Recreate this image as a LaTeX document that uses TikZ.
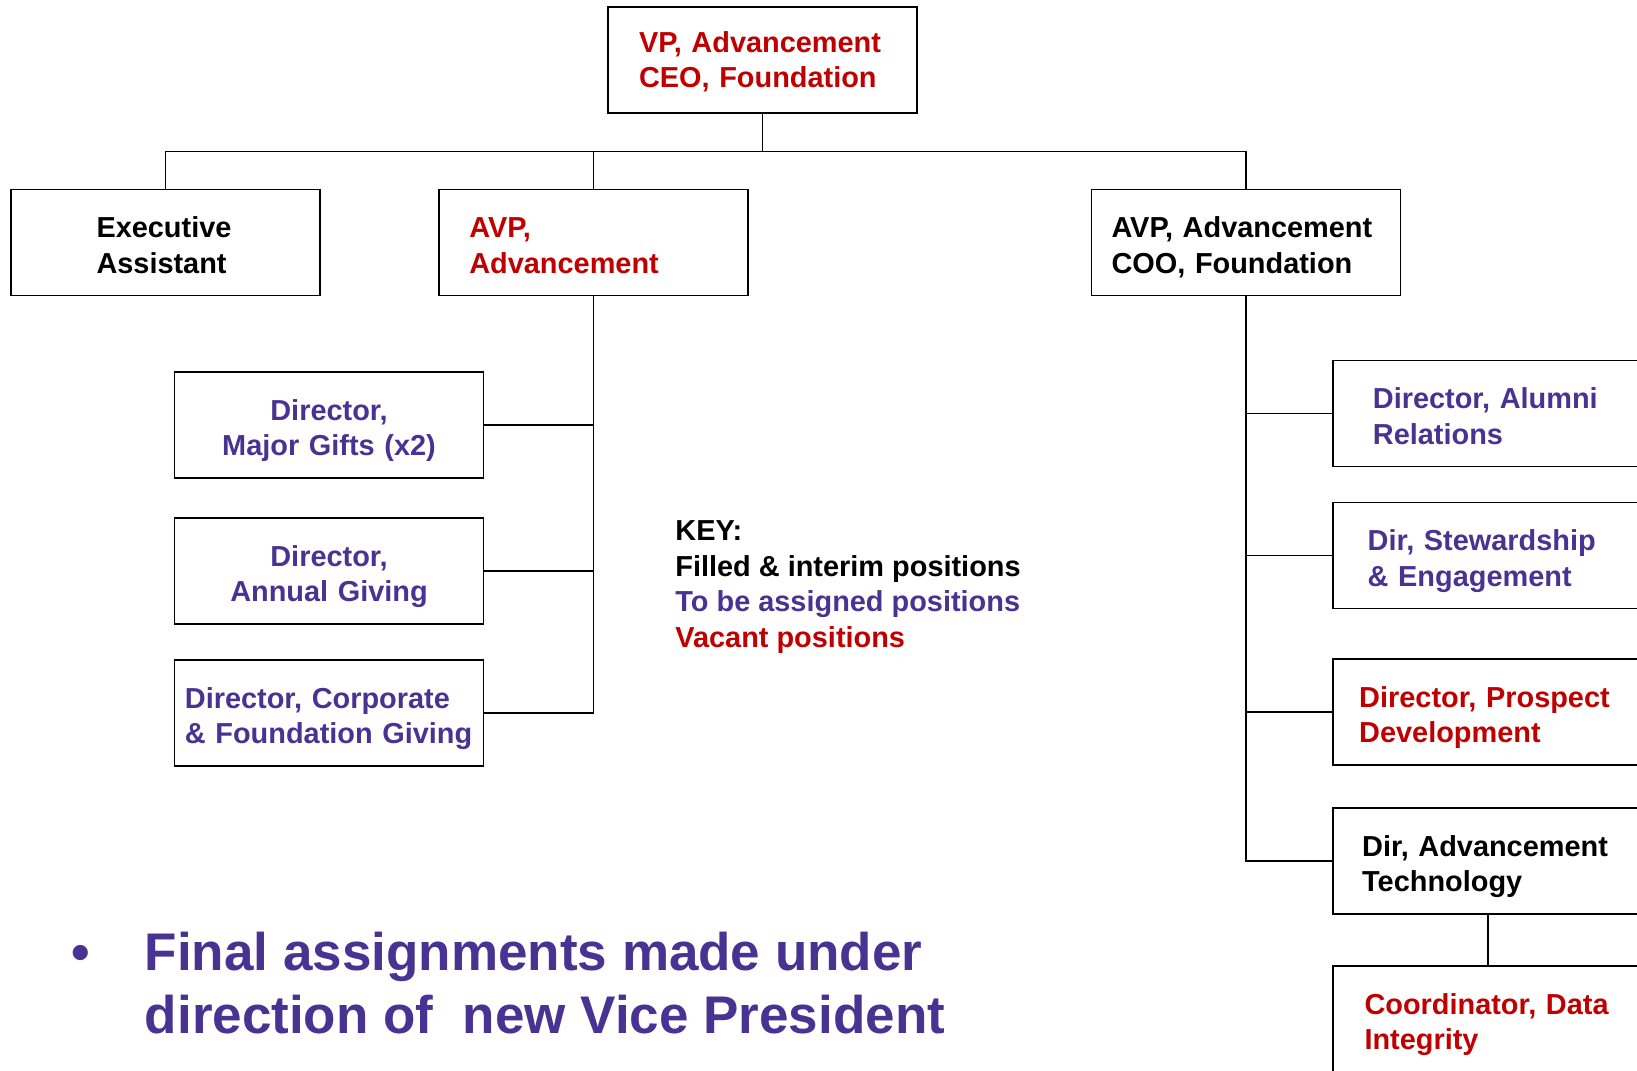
\documentclass[tikz,border=0pt]{standalone}
\usepackage{fontspec}
\setmainfont{Liberation Sans}
\definecolor{vacant}{RGB}{192,0,0}
\definecolor{toassign}{RGB}{72,50,146}

\begin{document}
\begin{tikzpicture}[x=0.5pt, y=-0.5pt, line width=0.9pt,
    box/.style={draw, minimum width=154.5pt, minimum height=53pt, inner ysep=0pt,
        inner xsep=3.25pt, text width=148pt, align=center,
        font=\fontsize{14.45}{17.75}\selectfont\bfseries,
        execute at begin node=\rule{0pt}{16.1pt}, execute at end node=\rule[-3pt]{0pt}{3pt}},
    lbox/.style 2 args={box, align=left, inner xsep=#1, text width=#2}]

    \useasboundingbox (0,0) rectangle (1637,1070);
    \clip (0,0) rectangle (1637,1070);

    \node[lbox={15.5pt}{123.5pt}, text=vacant, execute at end node={\rule[-6pt]{0pt}{6pt}}] (vp) at (762.5,60) {VP,~Advancement\\CEO,~Foundation};
    \node[lbox={42.75pt}{69pt}] (exec) at (165.5,242.5) {Executive\\Assistant};
    \node[lbox={15.15pt}{124.2pt}, text=vacant] (avp) at (593.5,242.5) {AVP,\\Advancement};
    \node[lbox={10pt}{134.5pt}] (coo) at (1246,242.5) {AVP,~Advancement\\COO,~Foundation};

    \coordinate (bar) at (762.5,151.4);
    \draw (vp.south) -- (bar);
    \draw (exec.north) |- (bar) -| (coo.north);
    \draw (avp.north) -- (avp.north |- bar);

    % left branch
    \node[box, text=toassign] (gifts) at (329,425) {Director,\\Major Gifts (x2)};
    \node[box, text=toassign] (annual) at (329,571) {Director,\\Annual Giving};
    \node[lbox={5.2pt}{144.1pt}, text=toassign] (corp) at (329,713) {\mbox{Director, Corporate}\\\mbox{\& Foundation Giving}};
    \draw (avp.south) |- (corp.east);
    \foreach \n in {gifts,annual}
        \draw (\n.east) -- (\n.east -| avp.south);

    % right branch
    \node[lbox={19.85pt}{114.8pt}, text=toassign] (alumni) at (1487.7,413.5) {Director,~Alumni\\Relations};
    \node[lbox={17.25pt}{120pt}, text=toassign] (steward) at (1487.7,555.5) {Dir,~Stewardship\\\&~Engagement};
    \node[lbox={13pt}{128.5pt}, text=vacant] (prospect) at (1487.7,712) {Director,~Prospect\\Development};
    \node[lbox={14.5pt}{125.5pt}] (tech) at (1487.7,861.2) {Dir,~Advancement\\Technology};
    \node[lbox={15.65pt}{123.2pt}, text=vacant] (coord) at (1487.7,1019) {Coordinator,~Data\\Integrity};
    \draw (coo.south) |- (tech.west);
    \foreach \n in {alumni,steward,prospect}
        \draw (\n.west) -- (\n.west -| coo.south);
    \draw (tech.south) -- (coord.north);

    \node[anchor=west, inner sep=0pt, align=left, font=\fontsize{14.45}{17.75}\selectfont\bfseries] (key) at (674.5,587)
        {KEY:\\Filled \& interim positions\\\textcolor{toassign}{To be assigned positions}\\\textcolor{vacant}{Vacant positions}};

    \node[anchor=west, inner sep=0pt, align=left, text=toassign, font=\fontsize{26.5}{31.5}\selectfont\bfseries] (note) at (144,983)
        {\llap{\textbullet\hspace{27.5pt}}Final assignments made under\\direction of~~new Vice President};

\end{tikzpicture}
\end{document}
